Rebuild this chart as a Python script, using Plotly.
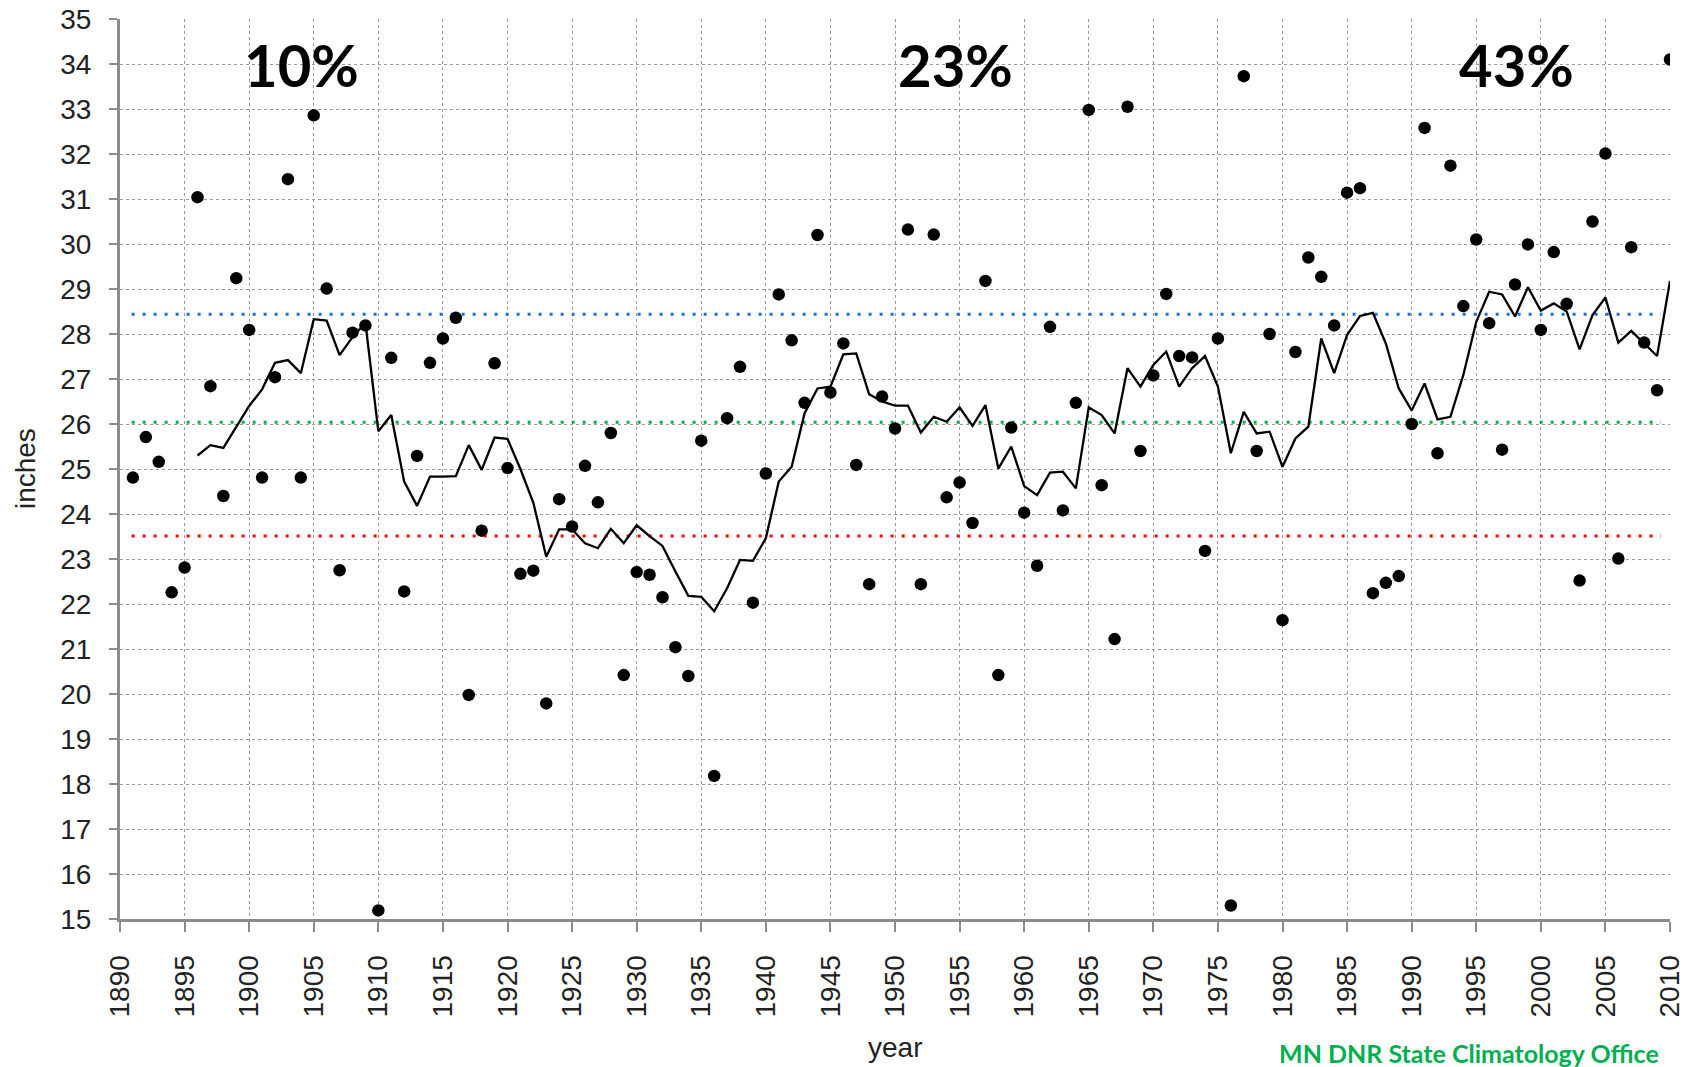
import plotly.graph_objects as go

years = list(range(1891, 2011))
precip = [
    24.81, 25.71, 25.16, 22.26, 22.81, 31.04, 26.84, 24.40, 29.24, 28.09,
    24.81, 27.04, 31.44, 24.81, 32.86, 29.01, 22.75, 28.03, 28.19, 15.19,
    27.47, 22.28, 25.29, 27.36, 27.90, 28.36, 19.98, 23.63, 27.35, 25.02,
    22.67, 22.74, 19.79, 24.33, 23.72, 25.07, 24.26, 25.80, 20.42, 22.71,
    22.65, 22.15, 21.04, 20.40, 25.63, 18.18, 26.13, 27.27, 22.03, 24.90,
    28.88, 27.86, 26.47, 30.20, 26.70, 27.79, 25.09, 22.44, 26.61, 25.90,
    30.32, 22.44, 30.21, 24.37, 24.70, 23.80, 29.18, 20.42, 25.92, 24.03,
    22.85, 28.16, 24.08, 26.47, 32.98, 24.64, 21.22, 33.05, 25.40, 27.08,
    28.89, 27.51, 27.48, 23.18, 27.90, 15.30, 33.73, 25.40, 28.00, 21.64,
    27.60, 29.70, 29.27, 28.19, 31.14, 31.24, 22.24, 22.47, 22.62, 26.00,
    32.58, 25.35, 31.74, 28.62, 30.10, 28.24, 25.43, 29.10, 29.99, 28.09,
    29.82, 28.67, 22.52, 30.50, 32.01, 23.01, 29.93, 27.81, 26.75, 34.10,
]

avg_years = list(range(1896, 2011))
moving_avg = [
    25.30, 25.53, 25.47, 25.92, 26.40, 26.77, 27.36, 27.42, 27.13, 28.33,
    28.30, 27.53, 27.93, 28.25, 25.84, 26.20, 24.72, 24.18, 24.83, 24.83,
    24.84, 25.53, 24.98, 25.70, 25.67, 25.00, 24.25, 23.05, 23.66, 23.66,
    23.35, 23.24, 23.67, 23.35, 23.75, 23.51, 23.29, 22.72, 22.18, 22.16,
    21.84, 22.35, 22.98, 22.96, 23.46, 24.72, 25.05, 26.24, 26.79, 26.83,
    27.55, 27.57, 26.66, 26.50, 26.41, 26.41, 25.81, 26.16, 26.05, 26.37,
    25.96, 26.42, 25.01, 25.50, 24.62, 24.42, 24.92, 24.94, 24.57, 26.37,
    26.20, 25.79, 27.24, 26.83, 27.31, 27.61, 26.83, 27.24, 27.51, 26.83,
    25.35, 26.27, 25.79, 25.83, 25.05, 25.68, 25.94, 27.90, 27.13, 27.98,
    28.40, 28.47, 27.79, 26.79, 26.30, 26.90, 26.10, 26.16, 27.09, 28.27,
    28.94, 28.88, 28.39, 29.04, 28.52, 28.68, 28.50, 27.66, 28.42, 28.81,
    27.81, 28.07, 27.79, 27.51, 29.18,
]

ref_levels = [28.44, 26.04, 23.51]
ref_colors = ["#1f6fd0", "#00b050", "#ff0000"]
ref_x = [1890.9, 2009.3]

pct_labels = ["10%", "23%", "43%"]
pct_x = [1904.06, 1954.7, 1998.1]
pct_y = 34.0

x_ticks = list(range(1890, 2011, 5))
y_ticks = list(range(15, 36))

fig = go.Figure()

for lvl, col in zip(ref_levels, ref_colors):
    fig.add_trace(go.Scatter(
        x=ref_x, y=[lvl, lvl], mode="lines",
        line=dict(color=col, width=3, dash="3px,8px"),
        hoverinfo="skip", showlegend=False,
    ))

fig.add_trace(go.Scatter(
    x=avg_years, y=moving_avg, mode="lines",
    line=dict(color="black", width=2.3),
    showlegend=False,
))

fig.add_trace(go.Scatter(
    x=years, y=precip, mode="markers",
    marker=dict(color="black", size=12.5),
    showlegend=False,
))

tick_font = dict(family="Liberation Sans, Arial, sans-serif", size=28, color="#222222")

fig.update_xaxes(
    range=[1890, 2010], tickvals=x_ticks, tickangle=-90,
    showgrid=True, gridcolor="#9a9a9a", griddash="dot", gridwidth=1,
    showline=True, linecolor="#8c8c8c", linewidth=3,
    ticks="outside", ticklen=10, tickcolor="#8c8c8c", tickwidth=2,
    tickfont=tick_font, zeroline=False, ticklabelstandoff=12,
)
fig.update_yaxes(
    range=[15, 35], tickvals=y_ticks,
    showgrid=True, gridcolor="#9a9a9a", griddash="dot", gridwidth=1,
    showline=True, linecolor="#8c8c8c", linewidth=3,
    ticks="outside", ticklen=8, tickcolor="#8c8c8c", tickwidth=2,
    tickfont=tick_font, zeroline=False, ticklabelstandoff=12,
)

annotations = []
for lab, px in zip(pct_labels, pct_x):
    annotations.append(dict(
        x=px, y=pct_y, xref="x", yref="y", text=lab, showarrow=False,
        font=dict(family="Lato, Open Sans, sans-serif", size=58, color="black", weight="bold"),
        xanchor="center", yanchor="middle",
    ))
annotations.append(dict(
    x=-0.0613, y=0.501, xref="paper", yref="paper", text="inches", textangle=-90,
    showarrow=False, font=dict(family="Liberation Sans, Arial, sans-serif", size=28, color="#222222"),
    xanchor="center", yanchor="middle",
))
annotations.append(dict(
    x=0.5, y=-0.1433, xref="paper", yref="paper", text="year",
    showarrow=False, font=dict(family="Liberation Sans, Arial, sans-serif", size=28, color="#222222"),
    xanchor="center", yanchor="middle",
))
annotations.append(dict(
    x=0.9942, y=-0.1489, xref="paper", yref="paper", text="MN DNR State Climatology Office",
    showarrow=False, font=dict(family="Lato, Open Sans, sans-serif", size=25, color="#00b050", weight="bold"),
    xanchor="right", yanchor="middle",
))

fig.update_layout(
    width=1698, height=1067,
    margin=dict(l=120, r=28, t=19, b=148, autoexpand=False),
    plot_bgcolor="white", paper_bgcolor="white",
    annotations=annotations,
    showlegend=False,
)

fig.write_html("out.html", config={"displayModeBar": False})

# remove the default browser body margin so the figure sits at the page origin
with open("out.html", "r", encoding="utf-8") as f:
    html = f.read()
html = html.replace("<head>", "<head><style>html,body{margin:0;padding:0;overflow:hidden;}</style>", 1)
with open("out.html", "w", encoding="utf-8") as f:
    f.write(html)
